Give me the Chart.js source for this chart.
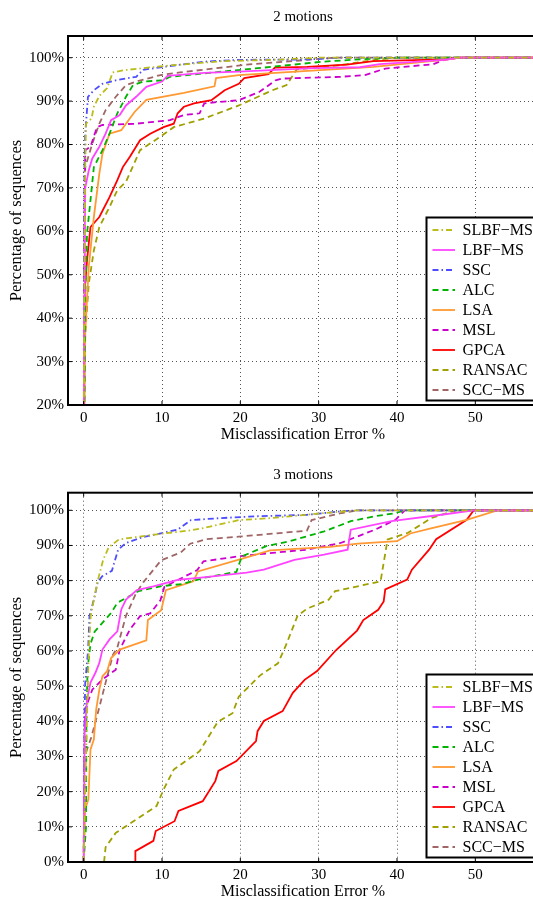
<!DOCTYPE html>
<html lang="en">
<head>
  <meta charset="UTF-8" />
  <title>Misclassification error</title>
  <script src="https://cdn.jsdelivr.net/npm/chart.js"></script>
  <style>
    html, body { margin: 0; padding: 0; background: #fff; overflow: hidden; }
    .wrap { position: absolute; left: 0; }
    canvas { display: block; }
  </style>
</head>
<body>
  <div class="wrap" style="top:0"><canvas id="top" width="545" height="450"></canvas></div>
  <div class="wrap" style="top:450px"><canvas id="bottom" width="545" height="452"></canvas></div>

  <script>
    const names = ['SLBF\u2212MS', 'LBF\u2212MS', 'SSC', 'ALC', 'LSA', 'MSL', 'GPCA', 'RANSAC', 'SCC\u2212MS'];
    const colors = ['#bcbc1c', '#ff44ff', '#4d4dff', '#00b300', '#ff9933', '#cc00cc', '#ff0000', '#a0a000', '#a06666'];
    const xTicks = [0, 10, 20, 30, 40, 50];
    const yTicksTop = [20, 30, 40, 50, 60, 70, 80, 90, 100];
    const yTicksBottom = [0, 10, 20, 30, 40, 50, 60, 70, 80, 90, 100];

    // 2 motions: [error %, percentage of sequences]
    const m2_slbf = [[0,0],[0.1,55],[0.2,75],[0.3,84.8],[1,86],[1.3,88.7],[2,91.2],[3,93],[3.7,96.6],[5,97.1],[7.6,97.6],[11,98.2],[17.6,99.2],[24,99.5],[30,100],[58,100]];
    const m2_lbf = [[0,0],[0.05,45],[0.15,60],[0.2,70],[0.65,74],[1.1,76.8],[2,79.5],[2.8,82.5],[3.5,85.6],[4.6,86.8],[5.4,89],[6.7,91],[8,93.3],[10,94.5],[10.7,95.8],[15.4,96.5],[19.8,96.8],[29.3,97.6],[35.3,97.8],[37.8,98.5],[46,99.5],[48,100],[58,100]];
    const m2_ssc = [[0,0],[0.05,50],[0.1,75],[0.2,82.5],[0.55,91],[1.3,92.5],[2.4,94],[4.1,94.8],[6.7,95.6],[7.6,97.2],[10.2,97.9],[15.4,99.1],[19.8,99.5],[28.5,99.6],[32.8,100],[58,100]];
    const m2_alc = [[0,0],[0.2,45],[0.43,59.5],[0.87,67.2],[1.3,74.8],[2.4,78.7],[3.3,82.5],[4.3,87.2],[5.4,91],[6.3,93.7],[7.6,94.5],[10.2,94.8],[11,95.6],[15.4,96.4],[24,97.9],[30.6,99.1],[37,99.8],[40,100],[58,100]];
    const m2_lsa = [[0,0],[0.2,36.4],[0.65,51.8],[1.3,63.3],[2,73.3],[2.4,77.9],[3.3,82.5],[4.8,83.3],[5.4,84.8],[6.5,87.5],[8,90.3],[12.8,91.9],[16.7,93.4],[16.9,95.3],[19.8,96],[37,97.9],[46,99.5],[48,100],[58,100]];
    const m2_msl = [[0,0],[0.1,60],[0.2,78.7],[0.87,79.5],[1.7,84],[2.4,84.5],[6.7,84.8],[11,85.6],[12.8,86.8],[14.8,87.2],[15.4,89.5],[19.8,90.2],[22.5,92.2],[24.5,94.8],[25.4,95.2],[32.8,95.6],[35.9,96],[38.5,97.5],[44.6,98.5],[46,99.5],[48,100],[58,100]];
    const m2_gpca = [[0,0],[0.13,46.4],[0.43,53.3],[0.87,61],[2,63.3],[3.3,67.9],[4.3,71.8],[5,74.8],[5.9,77.2],[7.2,81],[8.5,82.5],[10.2,84],[11.5,84.8],[12,87.2],[12.8,88.7],[14.1,89.5],[16.3,90.2],[17.2,91.4],[18,92.5],[19.8,94],[20.5,95.3],[23.6,96.2],[24.4,97.7],[28.5,97.9],[33.6,98.4],[37,99.2],[46,99.6],[48,100],[58,100]];
    const m2_ransac = [[0,0],[0.2,36.4],[0.65,47.9],[1.3,55.6],[2,61],[3.3,65.6],[4.3,69.5],[5.4,71.4],[7.2,78.7],[9.8,81.8],[11.5,84],[15.4,86],[19.8,89],[24.1,92.5],[25.9,93.7],[27.2,97.3],[32.8,98.3],[37.2,99.5],[40,100],[58,100]];
    const m2_scc = [[0,0],[0.1,60],[0.2,74.8],[1.1,80.2],[2,84.8],[2.8,87.9],[4.1,91],[5.4,93.7],[6.7,94.5],[9.8,96],[12.3,96.6],[20.8,98.4],[28.5,99.5],[32,100],[58,100]];

    // 3 motions
    const m3_slbf = [[0,0],[0.3,30],[0.43,41.5],[0.65,60],[0.9,70],[1.8,80],[2.5,86],[3.2,89.5],[4.5,91.7],[6.7,92.4],[10.2,93.4],[13.7,94.3],[15.4,95],[19.8,97.2],[24.1,97.8],[30.6,99.2],[35,100],[58,100]];
    const m3_lbf = [[0,0],[0.13,36.7],[0.43,46.2],[0.87,51],[1.5,53.8],[2,56.6],[2.4,60.4],[3.3,63.3],[4.3,65.6],[4.8,71.8],[5.4,74.6],[6.8,77.3],[8.9,78.4],[12,80.2],[15.6,81],[20.8,82.3],[23,83.1],[26.9,85.9],[30.7,87.4],[33.7,88.8],[34.1,94.5],[39.3,96.9],[45.9,98.8],[49.8,100],[58,100]];
    const m3_ssc = [[0,0],[0.1,40],[0.2,51],[0.57,60.4],[0.74,69.9],[1.3,74.6],[1.8,79.6],[2.4,81.3],[3.6,82.8],[4.4,88.8],[5.4,90.7],[7.6,92.4],[10.2,93.6],[12,94.5],[13.7,97.2],[17.6,97.8],[22,98.3],[28.5,98.7],[32.8,99.7],[35,100],[58,100]];
    const m3_alc = [[0,0],[0.3,10],[0.35,40],[0.5,55],[0.87,62],[1.4,65.5],[3.5,70.8],[4.3,73.7],[7,77],[9.8,78.4],[12.5,79],[15.4,80.8],[19.5,82.5],[20.2,86.9],[23.3,89.8],[26.3,91.2],[30.7,94],[34.1,96.9],[37.2,98.3],[39.8,99.2],[41,100],[58,100]];
    const m3_lsa = [[0,0],[0.2,15],[0.6,17.8],[0.87,32],[1.3,34.8],[1.6,43.4],[2,49],[2.4,52.8],[3,54.3],[3.5,58],[4.6,60.4],[8,63],[8.2,68.8],[9.9,71.6],[10.5,77.3],[14,79.8],[14.6,82.6],[20.8,86.6],[23.8,88.6],[31.5,89.6],[35,90.5],[40,91.2],[41.7,93.4],[44.2,94.8],[48.9,97.3],[52.8,100],[58,100]];
    const m3_msl = [[0,0],[0.1,30],[0.2,43.4],[1.1,49],[2.4,51.9],[4.1,54.7],[4.6,60.4],[5.9,66.1],[7.2,69.9],[8.5,70.7],[9.8,74.4],[10.3,78.2],[14.5,83],[15.3,85.5],[19.8,86.9],[24.1,87.9],[28.5,88.8],[32.8,90.7],[37.2,94.5],[39.8,97.3],[41,100],[58,100]];
    const m3_gpca = [[6.6,0],[6.6,3.1],[8.9,6],[9.2,8.8],[11.6,11.6],[12.1,14.5],[15.2,17.3],[16.8,23],[17.2,25.9],[19.5,28.7],[22,34.4],[22.2,37.2],[23,40.1],[25.4,42.9],[26.7,48.1],[28.2,51.8],[29.8,54.3],[32.2,60.2],[34.9,65.8],[35.7,68.8],[37.6,71.7],[38.3,74.1],[38.5,77.5],[41.3,80.3],[41.9,83.1],[44.1,88.8],[45,91.8],[48.9,97.3],[49.8,100],[58,100]];
    const m3_ransac = [[2.6,0],[2.8,4.2],[4.1,8.3],[6.7,12.1],[9.3,15.9],[10.2,20.6],[11.5,26.3],[14.8,31.5],[17.1,39.8],[19,42.3],[19.8,47],[22.5,53],[24.8,56.5],[25.8,61.5],[27.3,70],[28.5,72],[31.3,74.6],[32.1,77],[37.9,79.8],[38.8,91.7],[41.4,93.6],[44.4,97.8],[47.5,100],[58,100]];
    const m3_scc = [[0,0],[0.1,30],[1,35.6],[2,44],[2.8,51],[3.75,59],[4.3,61],[5.4,70],[6.7,76.5],[7.6,79.5],[9.9,85.8],[12.4,88],[13.6,90.5],[15.7,91.8],[19.8,92.5],[28.5,94.2],[29.1,97.2],[32.7,99.1],[35,100],[58,100]];

    const dashDot = [6, 3, 1.5, 3];
    const dashed = [6, 4];
    const dashes = [dashDot, [], dashDot, dashed, [], dashed, [], dashed, dashed];
    const serif = '"Liberation Serif", "Times New Roman", serif';

    // frame, inward ticks, title and boxed legend drawn like the Matlab figure
    const framePlugin = {
      id: 'frame',
      afterDraw(chart, args, opts) {
        const { ctx, chartArea: a, scales } = chart;
        ctx.save();
        ctx.strokeStyle = '#000';
        ctx.lineWidth = 1;
        ctx.beginPath();
        scales.x.ticks.forEach(t => {
          const x = scales.x.getPixelForValue(t.value);
          ctx.moveTo(x, a.bottom); ctx.lineTo(x, a.bottom - 4);
          ctx.moveTo(x, a.top); ctx.lineTo(x, a.top + 4);
        });
        scales.y.ticks.forEach(t => {
          const y = scales.y.getPixelForValue(t.value);
          ctx.moveTo(a.left, y); ctx.lineTo(a.left + 4, y);
          ctx.moveTo(a.right, y); ctx.lineTo(a.right - 4, y);
        });
        ctx.stroke();
        ctx.lineWidth = 2;
        ctx.strokeRect(a.left, a.top, a.right - a.left, a.bottom - a.top);

        ctx.fillStyle = '#000';
        ctx.font = '15px ' + serif;
        ctx.textAlign = 'center';
        ctx.textBaseline = 'middle';
        ctx.fillText(opts.title, (a.left + a.right) / 2, a.top - opts.titleGap);

        // legend
        const bx = 426.5, bw = 108.5, bh = 183;
        const by = a.bottom - 4.5 - bh;
        ctx.fillStyle = '#fff';
        ctx.fillRect(bx, by, bw, bh);
        ctx.strokeRect(bx, by, bw, bh);
        ctx.font = '16px ' + serif;
        ctx.textAlign = 'left';
        chart.data.datasets.forEach((ds, i) => {
          const y = by + 12.5 + i * 20;
          ctx.strokeStyle = ds.borderColor;
          ctx.lineWidth = 1.8;
          ctx.setLineDash(ds.borderDash);
          ctx.beginPath();
          ctx.moveTo(432.5, y); ctx.lineTo(455, y);
          ctx.stroke();
          ctx.setLineDash([]);
          ctx.fillStyle = '#000';
          ctx.fillText(ds.label, 462.5, y + 1);
        });
        ctx.restore();
      }
    };

    function makeChart(id, title, series, yMin, yTicks, padTop, padBottom, titleGap) {
      return new Chart(document.getElementById(id), {
        type: 'scatter',
        data: {
          datasets: series.map((d, i) => ({
            label: names[i],
            data: d,
            showLine: true,
            borderColor: colors[i],
            borderWidth: 1.8,
            borderDash: dashes[i],
            pointRadius: 0,
            fill: false,
            tension: 0
          }))
        },
        options: {
          responsive: false,
          animation: false,
          layout: { padding: { top: padTop, right: 7, bottom: padBottom, left: 0 } },
          plugins: {
            legend: { display: false },
            tooltip: { enabled: false },
            frame: { title: title, titleGap: titleGap }
          },
          scales: {
            x: {
              type: 'linear', min: -2, max: 58,
              afterBuildTicks: s => { s.ticks = xTicks.map(v => ({ value: v })); },
              afterFit: s => { s.height = 40; },
              grid: { color: '#555', lineWidth: 1, drawTicks: false },
              border: { display: false, dash: [1, 3] },
              ticks: { color: '#000', font: { family: serif, size: 15 }, padding: 4, maxRotation: 0 },
              title: { display: true, text: 'Misclassification Error %', color: '#000',
                       font: { family: serif, size: 16 }, padding: { top: 0, bottom: 0.4 } }
            },
            y: {
              type: 'linear', min: yMin, max: 105,
              afterBuildTicks: s => { s.ticks = yTicks.map(v => ({ value: v })); },
              afterFit: s => { s.width = 68; },
              grid: { color: '#555', lineWidth: 1, drawTicks: false },
              border: { display: false, dash: [1, 3] },
              ticks: { color: '#000', font: { family: serif, size: 15 }, padding: 4,
                       callback: v => v + '%' },
              title: { display: true, text: 'Percentage of sequences', color: '#000',
                       font: { family: serif, size: 16.5 }, padding: { top: 7.2, bottom: 0 } }
            }
          }
        },
        plugins: [framePlugin]
      });
    }

    makeChart('top', '2 motions',
      [m2_slbf, m2_lbf, m2_ssc, m2_alc, m2_lsa, m2_msl, m2_gpca, m2_ransac, m2_scc],
      20, yTicksTop, 36, 5, 18.7);
    makeChart('bottom', '3 motions',
      [m3_slbf, m3_lbf, m3_ssc, m3_alc, m3_lsa, m3_msl, m3_gpca, m3_ransac, m3_scc],
      0, yTicksBottom, 42.7, 0, 17.7);
  </script>
</body>
</html>
